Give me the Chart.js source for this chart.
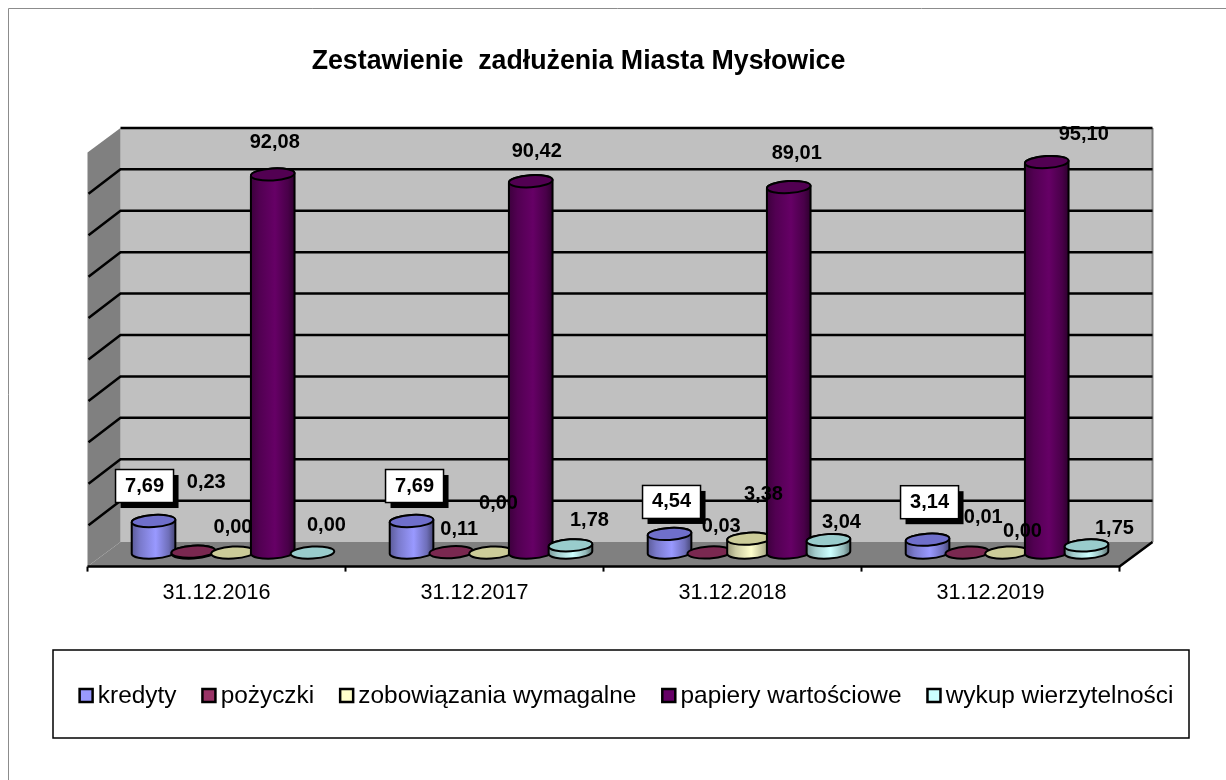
<!DOCTYPE html>
<html>
<head>
<meta charset="utf-8">
<style>
    body { margin: 0; background: #fff; }
    canvas { display: block; }
</style>
<script src="https://cdn.jsdelivr.net/npm/chart.js@4"></script>
</head>
<body>
<canvas id="debtChart" width="1226" height="780"></canvas>
<script>
const categories = ['31.12.2016', '31.12.2017', '31.12.2018', '31.12.2019'];
const seriesNames = ['kredyty', 'pożyczki', 'zobowiązania wymagalne', 'papiery wartościowe', 'wykup wierzytelności'];

const kredyty = [7.69, 7.69, 4.54, 3.14];
const pozyczki = [0.23, 0.11, 0.03, 0.01];
const zobowiazania = [0, 0, 3.38, 0];
const papiery = [92.08, 90.42, 89.01, 95.10];
const wykup = [0, 1.78, 3.04, 1.75];

const seriesColors = ['#9999ff', '#993366', '#ffffcc', '#660066', '#ccffff'];
const capColors = ['#6f6fcb', '#7a2850', '#cccc99', '#520052', '#99cccc'];

// przesunięcia etykiet względem wierzchołka słupka [dx, dy]
const labelNudges = [
    [[-9, -35], [3, -35], [2, -32], [2, -37.5]],
    [[13, -69], [8, -23], [12, -26], [16, -35]],
    [[0, -25], [7.5, -49], [14.5, -44], [15.5, -21]],
    [[2, -32], [6, -29.5], [8, -34], [37, -28]],
    [[14, -27], [19, -25], [13, -18], [28, -16.5]]
];

const FONT = '"Liberation Sans", Arial, sans-serif';
const DEPTH_X = 16.5;

function shade(hex, f) {
    const n = parseInt(hex.slice(1), 16);
    const c = [n >> 16, (n >> 8) & 255, n & 255].map(v => Math.round(v * f));
    return `rgb(${c[0]},${c[1]},${c[2]})`;
}

function formatValue(v) {
    return v.toFixed(2).replace('.', ',');
}

function drawCylinders(ctx, bars, color, capColor) {
    const tilt = -0.06;
    const ry = 6;
    ctx.save();
    ctx.strokeStyle = '#000';
    ctx.lineWidth = 2;
    bars.forEach(bar => {
        const rx = bar.width / 2;
        if (bar.base - bar.y > 0.5) {
            const side = ctx.createLinearGradient(bar.x - rx, 0, bar.x + rx, 0);
            side.addColorStop(0, shade(color, 0.6));
            side.addColorStop(0.2, shade(color, 0.8));
            side.addColorStop(0.55, shade(color, 1));
            side.addColorStop(0.85, shade(color, 0.72));
            side.addColorStop(1, shade(color, 0.45));
            ctx.fillStyle = side;
            ctx.beginPath();
            ctx.ellipse(bar.x, bar.base, rx, ry, tilt, 0, Math.PI);
            ctx.ellipse(bar.x, bar.y, rx, ry, tilt, Math.PI, 2 * Math.PI);
            ctx.closePath();
            ctx.fill();
            ctx.stroke();
        }
        ctx.fillStyle = capColor;
        ctx.beginPath();
        ctx.ellipse(bar.x, bar.y, rx, ry, tilt, 0, 2 * Math.PI);
        ctx.fill();
        ctx.stroke();
    });
    ctx.restore();
}

/**
 * Ściany, podłoga i oś w pseudo 3D, liczone ze skal wykresu,
 * potem walce od lewej do prawej (kolejne serie przykrywają poprzednie)
 */
const wallPlugin = {
    id: 'wall',
    beforeDatasetsDraw(chart) {
        const { ctx, chartArea: area, scales } = chart;
        const wallY = v => scales.y.getPixelForValue(v) - 10.5 - 3.5 * v / 100;
        const backL = area.left + DEPTH_X, backR = area.right + DEPTH_X;
        const frontL = area.left - DEPTH_X, frontR = area.right - DEPTH_X;
        const backB = wallY(0), backT = wallY(100);
        const frontB = area.bottom + 14, dy = frontB - backB;

        ctx.save();
        ctx.fillStyle = '#c0c0c0';
        ctx.fillRect(backL, backT, backR - backL, backB - backT);

        ctx.fillStyle = '#808080';
        ctx.beginPath();
        ctx.moveTo(backL, backT);
        ctx.lineTo(frontL, backT + dy);
        ctx.lineTo(frontL, frontB);
        ctx.lineTo(backL, backB);
        ctx.closePath();
        ctx.fill();

        ctx.beginPath();
        ctx.moveTo(backL, backB);
        ctx.lineTo(backR, backB);
        ctx.lineTo(frontR, frontB);
        ctx.lineTo(frontL, frontB);
        ctx.closePath();
        ctx.fill();

        ctx.strokeStyle = '#808080';
        ctx.lineWidth = 2;
        ctx.beginPath();
        ctx.moveTo(backR, backT);
        ctx.lineTo(backR, backB);
        ctx.stroke();

        ctx.strokeStyle = '#000';
        ctx.lineWidth = 2.5;
        scales.y.ticks.forEach(t => {
            if (t.value === 0) return;
            const yy = wallY(t.value);
            ctx.beginPath();
            if (t.value < 100) ctx.moveTo(frontL + 1, yy + dy);
            else ctx.moveTo(backL, yy);
            ctx.lineTo(backL, yy);
            ctx.lineTo(backR, yy);
            ctx.stroke();
        });

        ctx.beginPath();
        ctx.moveTo(backR, backB);
        ctx.lineTo(frontR, frontB);
        ctx.lineTo(frontL, frontB);
        ctx.stroke();

        const slot = scales.x.width / categories.length;
        ctx.lineWidth = 2;
        for (let i = 0; i <= categories.length; i++) {
            const tx = frontL + i * slot;
            ctx.beginPath();
            ctx.moveTo(tx, frontB);
            ctx.lineTo(tx, frontB + 5);
            ctx.stroke();
        }
        ctx.restore();

        seriesNames.forEach((name, d) => {
            drawCylinders(ctx, chart.getDatasetMeta(d).data, seriesColors[d], capColors[d]);
        });
    },
    // domyślne prostokąty nie są rysowane
    beforeDatasetDraw() {
        return false;
    }
};

/**
 * Etykiety wartości; pierwsza seria ma białą ramkę z cieniem
 */
const valueLabelPlugin = {
    id: 'valueLabels',
    afterDatasetsDraw(chart) {
        const { ctx } = chart;
        ctx.save();
        ctx.font = `bold 20px ${FONT}`;
        ctx.textAlign = 'center';
        ctx.textBaseline = 'middle';
        chart.data.datasets.forEach((ds, d) => {
            chart.getDatasetMeta(d).data.forEach((bar, i) => {
                const x = bar.x + labelNudges[d][i][0];
                const y = bar.y + labelNudges[d][i][1];
                if (d === 0) {
                    ctx.fillStyle = '#000';
                    ctx.fillRect(x - 24, y - 11, 58, 33);
                    ctx.fillStyle = '#fff';
                    ctx.fillRect(x - 29, y - 16.5, 58, 33);
                    ctx.strokeStyle = '#000';
                    ctx.lineWidth = 1.5;
                    ctx.strokeRect(x - 29, y - 16.5, 58, 33);
                }
                ctx.fillStyle = '#000';
                ctx.fillText(formatValue(ds.data[i]), x, y);
            });
        });
        ctx.restore();
    }
};

/**
 * Ramki strony i legendy, kwadraciki legendy
 */
const framePlugin = {
    id: 'frame',
    afterLayout(chart) {
        const title = chart.titleBlock;
        const legend = chart.legend;
        title.left -= 34.5;
        title.right -= 34.5;
        const titleH = title.height;
        title.top = 46;
        title.bottom = title.top + titleH;
        const legendH = legend.height;
        legend.left += 13;
        legend.right += 13;
        legend.top = 659;
        legend.bottom = legend.top + legendH;
    },
    beforeDraw(chart) {
        const { ctx } = chart;
        ctx.save();
        ctx.strokeStyle = '#8c8c8c';
        ctx.lineWidth = 1;
        ctx.beginPath();
        ctx.moveTo(8.5, chart.height);
        ctx.lineTo(8.5, 8.5);
        ctx.lineTo(chart.width, 8.5);
        ctx.stroke();
        ctx.strokeStyle = '#000';
        ctx.lineWidth = 1.5;
        ctx.strokeRect(53, 650, 1136, 88);
        ctx.restore();
    },
    afterDraw(chart) {
        const { ctx } = chart;
        ctx.save();
        ctx.strokeStyle = '#000';
        ctx.lineWidth = 2.5;
        chart.legend.legendItems.forEach((item, i) => {
            const hit = chart.legend.legendHitBoxes[i];
            ctx.fillStyle = seriesColors[item.datasetIndex];
            ctx.fillRect(hit.left + 1, 689, 13, 13);
            ctx.strokeRect(hit.left + 1, 689, 13, 13);
        });
        ctx.restore();
    }
};

Chart.defaults.font.family = FONT;
Chart.defaults.color = '#000';

const seriesValues = [kredyty, pozyczki, zobowiazania, papiery, wykup];

new Chart(document.getElementById('debtChart'), {
    type: 'bar',
    data: {
        labels: categories,
        datasets: seriesNames.map((name, i) => ({
            label: name,
            data: seriesValues[i],
            backgroundColor: seriesColors[i],
            categoryPercentage: 0.77,
            barPercentage: 1.1
        }))
    },
    options: {
        responsive: false,
        animation: false,
        layout: { padding: { top: 109.8, bottom: 108 } },
        plugins: {
            tooltip: { enabled: false },
            title: {
                display: true,
                text: 'Zestawienie  zadłużenia Miasta Mysłowice',
                font: { size: 26.75, weight: 'bold' },
                padding: 0
            },
            legend: {
                position: 'bottom',
                labels: {
                    boxWidth: 7,
                    padding: 25,
                    font: { size: 24.4 },
                    generateLabels: chart => Chart.defaults.plugins.legend.labels.generateLabels(chart)
                        .map(l => ({ ...l, fillStyle: 'transparent', strokeStyle: 'transparent', lineWidth: 0 }))
                }
            }
        },
        scales: {
            x: {
                grid: { display: false, drawTicks: false },
                border: { display: false },
                ticks: { padding: 27, labelOffset: -DEPTH_X, maxRotation: 0, font: { size: 21.6 } },
                afterFit(s) { s.height = 60; }
            },
            y: {
                min: 0,
                max: 100,
                grid: { display: false, drawTicks: false },
                border: { display: false },
                ticks: { display: false, stepSize: 10 },
                afterFit(s) { s.width = 104; }
            },
            yRight: {
                position: 'right',
                min: 0,
                max: 100,
                grid: { display: false, drawTicks: false },
                border: { display: false },
                ticks: { display: false },
                afterFit(s) { s.width = 90; }
            }
        }
    },
    plugins: [wallPlugin, valueLabelPlugin, framePlugin]
});
</script>
</body>
</html>
